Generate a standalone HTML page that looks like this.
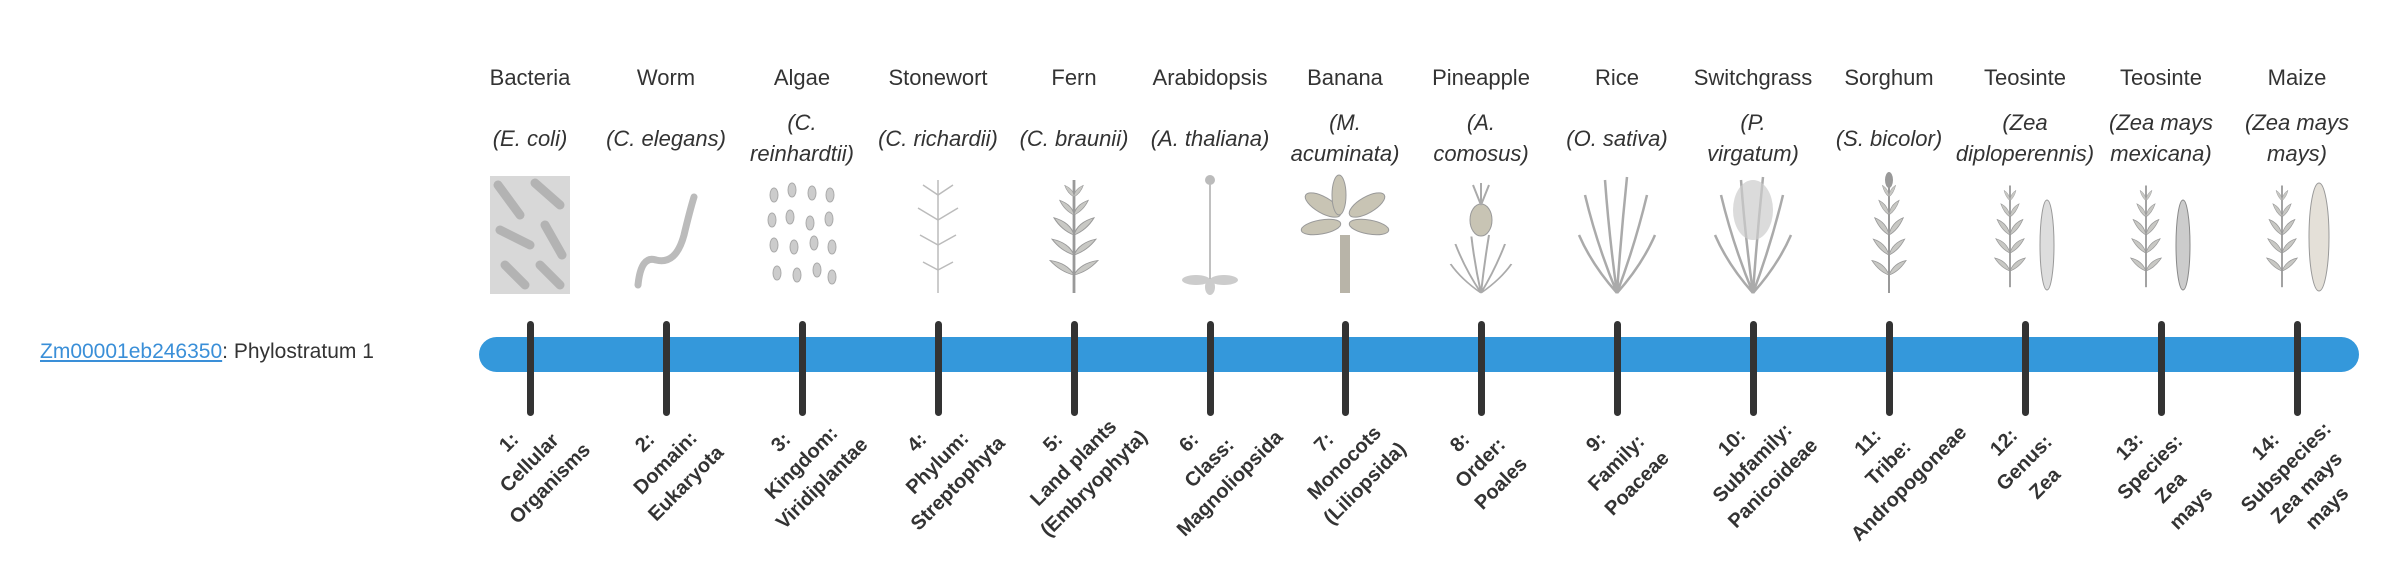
<!DOCTYPE html>
<html><head><meta charset="utf-8">
<style>
html,body{margin:0;padding:0;background:#fff;width:2400px;height:580px;overflow:hidden;position:relative;font-family:"Liberation Sans",sans-serif;color:#333}
.clip{position:absolute;left:0;top:0;width:2400px;height:580px;overflow:hidden}
.cn{position:absolute;top:65px;width:200px;text-align:center;font-size:22px;white-space:nowrap}
.sn{position:absolute;top:107px;height:62px;width:200px;display:flex;align-items:center;justify-content:center;text-align:center;font-style:italic;font-size:22px;line-height:31px;white-space:nowrap}
.lb{position:absolute;top:420px;width:180px;text-align:center;font-weight:bold;font-size:20px;line-height:29px;white-space:nowrap;transform:rotate(-45deg);transform-origin:50% 50%}
.bar{position:absolute;left:479px;top:337px;width:1880px;height:35px;border-radius:18px;background:#3498db}
.tk{position:absolute;top:321px;width:7px;height:95px;border-radius:4px;background:#333}
.left{position:absolute;left:40px;top:340px;font-size:21px}
.left a{color:#3a8fd8;text-decoration:underline}
</style></head><body>
<div class="clip">
<div class="left"><a>Zm00001eb246350</a>: Phylostratum 1</div>

<svg width="2400" height="580" style="position:absolute;left:0;top:0">
<defs>
<g id="leaf"><path d="M0 0 Q10 -8 22 -4 Q10 2 0 0Z" fill="#c8c8c4" stroke="#999" stroke-width="0.8"/></g>
<g id="plant">
<line x1="0" y1="58" x2="0" y2="-55" stroke="#999" stroke-width="2"/>
<use href="#leaf" transform="translate(0,40) rotate(-30)"/><use href="#leaf" transform="translate(0,40) scale(-1,1) rotate(-30)"/>
<use href="#leaf" transform="translate(0,20) rotate(-35)"/><use href="#leaf" transform="translate(0,20) scale(-1,1) rotate(-35)"/>
<use href="#leaf" transform="translate(0,0) rotate(-40)"/><use href="#leaf" transform="translate(0,0) scale(-1,1) rotate(-40)"/>
<use href="#leaf" transform="translate(0,-20) rotate(-45) scale(.8)"/><use href="#leaf" transform="translate(0,-20) scale(-1,1) rotate(-45) scale(.8)"/>
<use href="#leaf" transform="translate(0,-38) rotate(-50) scale(.6)"/><use href="#leaf" transform="translate(0,-38) scale(-1,1) rotate(-50) scale(.6)"/>
</g>
<g id="grass">
<path d="M0 58 Q-20 10 -32 -40 M0 58 Q-8 0 -12 -55 M0 58 Q4 0 10 -58 M0 58 Q18 10 30 -40 M0 58 Q-25 30 -38 0 M0 58 Q25 30 38 0" stroke="#aaa" stroke-width="2.5" fill="none"/>
</g>
</defs>
<g transform="translate(530,235)">
<rect x="-40" y="-59" width="80" height="118" fill="#d8d8d8"/>
<g stroke="#aaa" stroke-width="9" stroke-linecap="round" opacity=".8">
<line x1="-32" y1="-50" x2="-10" y2="-20"/><line x1="5" y1="-52" x2="30" y2="-30"/><line x1="-30" y1="-5" x2="0" y2="10"/><line x1="15" y1="-10" x2="32" y2="20"/><line x1="-25" y1="30" x2="-5" y2="50"/><line x1="10" y1="30" x2="30" y2="50"/></g>
</g>
<g transform="translate(666,235)"><path d="M-28 50 Q-25 20 -10 25 Q10 30 18 0 Q24 -25 28 -38" stroke="#bbb" stroke-width="7" fill="none" stroke-linecap="round"/></g>
<g transform="translate(802,235)" fill="#ccc" stroke="#aaa">
<ellipse cx="-28" cy="-40" rx="4" ry="7"/><ellipse cx="-10" cy="-45" rx="4" ry="7"/><ellipse cx="10" cy="-42" rx="4" ry="7"/><ellipse cx="28" cy="-40" rx="4" ry="7"/>
<ellipse cx="-30" cy="-15" rx="4" ry="7"/><ellipse cx="-12" cy="-18" rx="4" ry="7"/><ellipse cx="8" cy="-12" rx="4" ry="7"/><ellipse cx="27" cy="-16" rx="4" ry="7"/>
<ellipse cx="-28" cy="10" rx="4" ry="7"/><ellipse cx="-8" cy="12" rx="4" ry="7"/><ellipse cx="12" cy="8" rx="4" ry="7"/><ellipse cx="30" cy="12" rx="4" ry="7"/>
<ellipse cx="-25" cy="38" rx="4" ry="7"/><ellipse cx="-5" cy="40" rx="4" ry="7"/><ellipse cx="15" cy="35" rx="4" ry="7"/><ellipse cx="30" cy="42" rx="4" ry="7"/>
</g>
<g transform="translate(938,235)" stroke="#bbb" stroke-width="1.5" fill="none">
<line x1="0" y1="58" x2="0" y2="-55"/><path d="M0 -40 l-15 -10 M0 -40 l15 -10 M0 -15 l-20 -12 M0 -15 l20 -12 M0 10 l-18 -10 M0 10 l18 -10 M0 35 l-15 -8 M0 35 l15 -8"/></g>
<g transform="translate(1074,235)"><use href="#plant" transform="scale(1.4,1)"/></g>
<g transform="translate(1210,235)"><line x1="0" y1="50" x2="0" y2="-55" stroke="#aaa" stroke-width="1.5"/><ellipse cx="-14" cy="45" rx="14" ry="5" fill="#ccc"/><ellipse cx="14" cy="45" rx="14" ry="5" fill="#ccc"/><ellipse cx="0" cy="52" rx="5" ry="8" fill="#ccc"/><circle cx="0" cy="-55" r="5" fill="#bbb"/></g>
<g transform="translate(1345,235)"><rect x="-5" y="0" width="10" height="58" fill="#b8b4a8"/>
<g fill="#c8c4b4" stroke="#999"><ellipse cx="-22" cy="-30" rx="20" ry="8" transform="rotate(30 -22 -30)"/><ellipse cx="22" cy="-30" rx="20" ry="8" transform="rotate(-30 22 -30)"/><ellipse cx="-6" cy="-40" rx="7" ry="20"/><ellipse cx="-24" cy="-8" rx="20" ry="7" transform="rotate(-10 -24 -8)"/><ellipse cx="24" cy="-8" rx="20" ry="7" transform="rotate(10 24 -8)"/></g></g>
<g transform="translate(1481,235)"><ellipse cx="0" cy="-15" rx="11" ry="16" fill="#c8c4b4" stroke="#999"/><use href="#grass" transform="translate(0,0) scale(.8,.5) translate(0,58)"/><path d="M0 -30 l-8 -20 M0 -30 l8 -20 M0 -30 l0 -22" stroke="#aaa" stroke-width="2"/></g>
<g transform="translate(1617,235)"><use href="#grass"/></g>
<g transform="translate(1753,235)"><use href="#grass"/><ellipse cx="0" cy="-25" rx="20" ry="30" fill="#ccc" opacity=".7"/></g>
<g transform="translate(1889,235)"><use href="#plant"/><ellipse cx="0" cy="-55" rx="4" ry="8" fill="#999"/></g>
<g transform="translate(2025,235)"><use href="#plant" transform="translate(-15,0) scale(.9)"/><ellipse cx="22" cy="10" rx="7" ry="45" fill="#ddd" stroke="#999"/></g>
<g transform="translate(2161,235)"><use href="#plant" transform="translate(-15,0) scale(.9)"/><ellipse cx="22" cy="10" rx="7" ry="45" fill="#ccc" stroke="#888"/></g>
<g transform="translate(2297,235)"><use href="#plant" transform="translate(-15,0) scale(.9)"/><ellipse cx="22" cy="2" rx="10" ry="54" fill="#e4e0d8" stroke="#999"/></g>
</svg>

<div class="bar"></div>

<div class="cn" style="left:430px">Bacteria</div>
<div class="cn" style="left:566px">Worm</div>
<div class="cn" style="left:702px">Algae</div>
<div class="cn" style="left:838px">Stonewort</div>
<div class="cn" style="left:974px">Fern</div>
<div class="cn" style="left:1110px">Arabidopsis</div>
<div class="cn" style="left:1245px">Banana</div>
<div class="cn" style="left:1381px">Pineapple</div>
<div class="cn" style="left:1517px">Rice</div>
<div class="cn" style="left:1653px">Switchgrass</div>
<div class="cn" style="left:1789px">Sorghum</div>
<div class="cn" style="left:1925px">Teosinte</div>
<div class="cn" style="left:2061px">Teosinte</div>
<div class="cn" style="left:2197px">Maize</div>

<div class="sn" style="left:430px">(E. coli)</div>
<div class="sn" style="left:566px">(C. elegans)</div>
<div class="sn" style="left:702px">(C.<br>reinhardtii)</div>
<div class="sn" style="left:838px">(C. richardii)</div>
<div class="sn" style="left:974px">(C. braunii)</div>
<div class="sn" style="left:1110px">(A. thaliana)</div>
<div class="sn" style="left:1245px">(M.<br>acuminata)</div>
<div class="sn" style="left:1381px">(A.<br>comosus)</div>
<div class="sn" style="left:1517px">(O. sativa)</div>
<div class="sn" style="left:1653px">(P.<br>virgatum)</div>
<div class="sn" style="left:1789px">(S. bicolor)</div>
<div class="sn" style="left:1925px">(Zea<br>diploperennis)</div>
<div class="sn" style="left:2061px">(Zea mays<br>mexicana)</div>
<div class="sn" style="left:2197px">(Zea mays<br>mays)</div>

<div class="tk" style="left:527px"></div>
<div class="tk" style="left:663px"></div>
<div class="tk" style="left:799px"></div>
<div class="tk" style="left:935px"></div>
<div class="tk" style="left:1071px"></div>
<div class="tk" style="left:1207px"></div>
<div class="tk" style="left:1342px"></div>
<div class="tk" style="left:1478px"></div>
<div class="tk" style="left:1614px"></div>
<div class="tk" style="left:1750px"></div>
<div class="tk" style="left:1886px"></div>
<div class="tk" style="left:2022px"></div>
<div class="tk" style="left:2158px"></div>
<div class="tk" style="left:2294px"></div>

<div class="lb" style="left:440px">1:<br>Cellular<br>Organisms</div>
<div class="lb" style="left:576px">2:<br>Domain:<br>Eukaryota</div>
<div class="lb" style="left:712px">3:<br>Kingdom:<br>Viridiplantae</div>
<div class="lb" style="left:848px">4:<br>Phylum:<br>Streptophyta</div>
<div class="lb" style="left:984px">5:<br>Land plants<br>(Embryophyta)</div>
<div class="lb" style="left:1120px">6:<br>Class:<br>Magnoliopsida</div>
<div class="lb" style="left:1255px">7:<br>Monocots<br>(Liliopsida)</div>
<div class="lb" style="left:1391px">8:<br>Order:<br>Poales</div>
<div class="lb" style="left:1527px">9:<br>Family:<br>Poaceae</div>
<div class="lb" style="left:1663px">10:<br>Subfamily:<br>Panicoideae</div>
<div class="lb" style="left:1799px">11:<br>Tribe:<br>Andropogoneae</div>
<div class="lb" style="left:1935px">12:<br>Genus:<br>Zea</div>
<div class="lb" style="left:2071px">13:<br>Species:<br>Zea<br>mays</div>
<div class="lb" style="left:2207px">14:<br>Subspecies:<br>Zea mays<br>mays</div>
</div>
</body></html>
